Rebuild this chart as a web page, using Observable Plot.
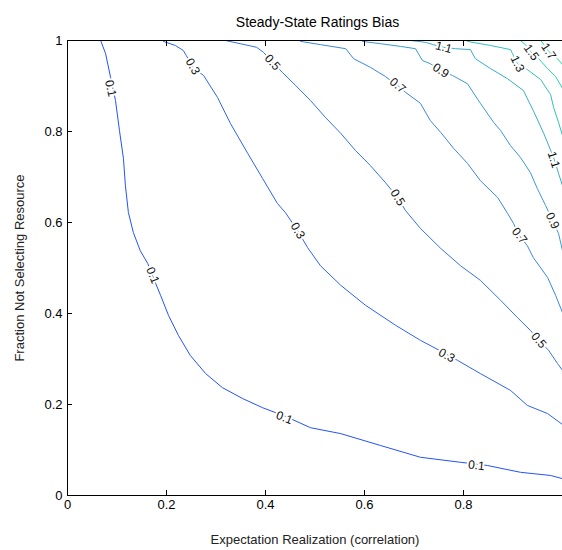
<!DOCTYPE html>
<html>
<head>
<meta charset="utf-8">
<script src="https://cdn.jsdelivr.net/npm/d3@7"></script>
<script src="https://cdn.jsdelivr.net/npm/@observablehq/plot@0.6"></script>
<style>
  html, body { margin: 0; padding: 0; background: #fff; overflow: hidden; }
  #chart svg { display: block; }
</style>
</head>
<body>
<div id="chart"></div>
<script>
// ---------- data ----------
const title = "Steady-State Ratings Bias";
const xLabel = "Expectation Realization (correlation)";
const yLabel = "Fraction Not Selecting Resource";
const xTicks = [0, 0.2, 0.4, 0.6, 0.8];
const yTicks = [0, 0.2, 0.4, 0.6, 0.8, 1];

const levels = [0.1, 0.3, 0.5, 0.7, 0.9, 1.1, 1.3, 1.5, 1.7];
const levelColors = ["#2452f8", "#2c63f2", "#3474ea", "#3a87e0", "#3c9ad4", "#38aec8", "#32c0ba", "#2ad1aa", "#20e09a"];

// contour paths [x, y] per level
const c01 = [[0.067,1.0],[0.077,0.971],[0.087,0.919],[0.097,0.868],[0.105,0.802],[0.113,0.741],[0.117,0.681],[0.123,0.622],[0.133,0.578],[0.147,0.538],[0.162,0.510],[0.174,0.477],[0.188,0.440],[0.204,0.396],[0.224,0.352],[0.248,0.308],[0.279,0.268],[0.313,0.237],[0.354,0.213],[0.394,0.193],[0.440,0.174],[0.491,0.149],[0.552,0.136],[0.632,0.110],[0.713,0.084],[0.794,0.073],[0.848,0.066],[0.915,0.051],[0.976,0.044],[1.0,0.037]];
const c03 = [[0.194,0.998],[0.218,0.989],[0.234,0.978],[0.240,0.967],[0.253,0.941],[0.275,0.923],[0.303,0.875],[0.329,0.818],[0.364,0.752],[0.394,0.697],[0.424,0.642],[0.440,0.622],[0.465,0.582],[0.485,0.545],[0.511,0.505],[0.552,0.462],[0.602,0.418],[0.663,0.374],[0.713,0.341],[0.760,0.314],[0.788,0.297],[0.834,0.268],[0.895,0.231],[0.929,0.198],[0.970,0.180],[1.0,0.156]];
const c05 = [[0.319,1.0],[0.349,0.993],[0.382,0.985],[0.396,0.974],[0.414,0.952],[0.434,0.930],[0.461,0.901],[0.491,0.868],[0.521,0.831],[0.552,0.796],[0.582,0.758],[0.612,0.725],[0.642,0.688],[0.667,0.655],[0.683,0.626],[0.713,0.587],[0.754,0.543],[0.794,0.505],[0.834,0.473],[0.875,0.429],[0.909,0.391],[0.935,0.363],[0.952,0.341],[0.972,0.319],[0.990,0.290],[1.0,0.275]];
const c07 = [[0.471,0.998],[0.511,0.991],[0.562,0.982],[0.578,0.960],[0.612,0.941],[0.642,0.921],[0.667,0.901],[0.683,0.886],[0.713,0.862],[0.733,0.824],[0.754,0.798],[0.780,0.763],[0.808,0.730],[0.834,0.692],[0.869,0.655],[0.889,0.620],[0.901,0.598],[0.913,0.571],[0.929,0.549],[0.941,0.523],[0.970,0.479],[0.986,0.440],[1.0,0.402]];
const c09 = [[0.596,0.998],[0.632,0.993],[0.673,0.987],[0.703,0.982],[0.717,0.956],[0.733,0.949],[0.754,0.934],[0.778,0.923],[0.808,0.905],[0.834,0.862],[0.861,0.820],[0.875,0.802],[0.895,0.769],[0.915,0.743],[0.935,0.710],[0.949,0.675],[0.966,0.637],[0.980,0.604],[0.992,0.576],[1.0,0.538]];
const c11 = [[0.693,1.0],[0.723,0.996],[0.739,0.991],[0.760,0.985],[0.784,0.982],[0.814,0.980],[0.824,0.960],[0.855,0.938],[0.889,0.916],[0.921,0.890],[0.941,0.846],[0.962,0.796],[0.982,0.743],[0.992,0.708],[1.0,0.681]];
const c13 = [[0.808,0.998],[0.855,0.989],[0.895,0.980],[0.899,0.971],[0.909,0.949],[0.929,0.936],[0.956,0.914],[0.976,0.881],[0.982,0.853],[0.992,0.820],[1.0,0.791]];
const c15 = [[0.915,1.0],[0.927,0.989],[0.937,0.974],[0.952,0.960],[0.970,0.938],[0.986,0.921],[1.0,0.895]];
const c17 = [[0.956,1.0],[0.964,0.989],[0.972,0.976],[0.990,0.960],[1.0,0.947]];
const contours = [c01, c03, c05, c07, c09, c11, c13, c15, c17];

// contour labels: level, x, y
const labelLevel = [0.1, 0.1, 0.1, 0.1, 0.3, 0.3, 0.3, 0.5, 0.5, 0.5, 0.7, 0.7, 0.9, 0.9, 1.1, 1.1, 1.3, 1.5, 1.7];
const labelX = [0.087, 0.172, 0.438, 0.826, 0.253, 0.465, 0.766, 0.414, 0.667, 0.952, 0.667, 0.913, 0.754, 0.980, 0.760, 0.982, 0.909, 0.937, 0.972];
const labelY = [0.895, 0.484, 0.171, 0.066, 0.943, 0.582, 0.308, 0.952, 0.655, 0.341, 0.901, 0.571, 0.934, 0.604, 0.985, 0.738, 0.949, 0.974, 0.976];

// ---------- layout ----------
const W = 562, H = 550;
const mL = 67, mR = 0, mT = 40, mB = 55;
const kx = W - mL - mR, ky = H - mT - mB;

const rows = [];
contours.forEach((pts, i) => pts.forEach(([x, y]) => rows.push({level: levels[i], x, y})));

function angleAt(level, x, y) {
  const pts = contours[levels.indexOf(level)];
  let best = 0, bd = Infinity;
  for (let i = 0; i < pts.length - 1; i++) {
    const mx = (pts[i][0] + pts[i + 1][0]) / 2, my = (pts[i][1] + pts[i + 1][1]) / 2;
    const d = ((mx - x) * kx) ** 2 + ((my - y) * ky) ** 2;
    if (d < bd) { bd = d; best = i; }
  }
  const a = pts[best], b = pts[best + 1];
  let ang = Math.atan2(-(b[1] - a[1]) * ky, (b[0] - a[0]) * kx) * 180 / Math.PI;
  if (ang > 90) ang -= 180;
  if (ang <= -90) ang += 180;
  return ang;
}
const labels = labelLevel.map((lv, i) => ({
  text: String(lv), x: labelX[i], y: labelY[i], rotate: angleAt(lv, labelX[i], labelY[i])
}));

const chart = Plot.plot({
  width: W, height: H,
  marginLeft: mL, marginRight: mR, marginTop: mT, marginBottom: mB,
  style: {fontFamily: "'Liberation Sans', Arial, sans-serif", fontSize: "13px", color: "#000", background: "#fff"},
  x: {domain: [0, 1]},
  y: {domain: [0, 1]},
  color: {type: "ordinal", domain: levels, range: levelColors},
  marks: [
    Plot.line(rows, {x: "x", y: "y", z: "level", stroke: "level", strokeWidth: 1, curve: "linear"}),
    Plot.text(labels, {x: "x", y: "y", text: "text", rotate: "rotate", fill: "#111", stroke: "white", strokeWidth: 4, fontSize: 12}),
    Plot.axisX(xTicks, {anchor: "bottom", tickSize: -5, tickPadding: 9, fontSize: 13, label: null, tickFormat: d => String(d)}),
    Plot.axisX(xTicks, {anchor: "top", tickSize: -5, tickFormat: () => "", label: null}),
    Plot.axisY(yTicks, {anchor: "left", tickSize: -5, tickPadding: 10, fontSize: 13, label: null, tickFormat: d => String(d)}),
    Plot.ruleY([0, 1], {stroke: "#000"}),
    Plot.ruleX([0], {stroke: "#000"}),
    Plot.text([title], {frameAnchor: "top", dy: -23, dx: 2.5, fontSize: 14, fill: "#000"}),
    Plot.text([xLabel], {frameAnchor: "bottom", dy: 48, fontSize: 13, fill: "#222"}),
    Plot.text([yLabel], {frameAnchor: "left", textAnchor: "middle", dx: -48, rotate: -90, fontSize: 13, fill: "#222"})
  ]
});
document.getElementById("chart").appendChild(chart);
</script>
</body>
</html>
